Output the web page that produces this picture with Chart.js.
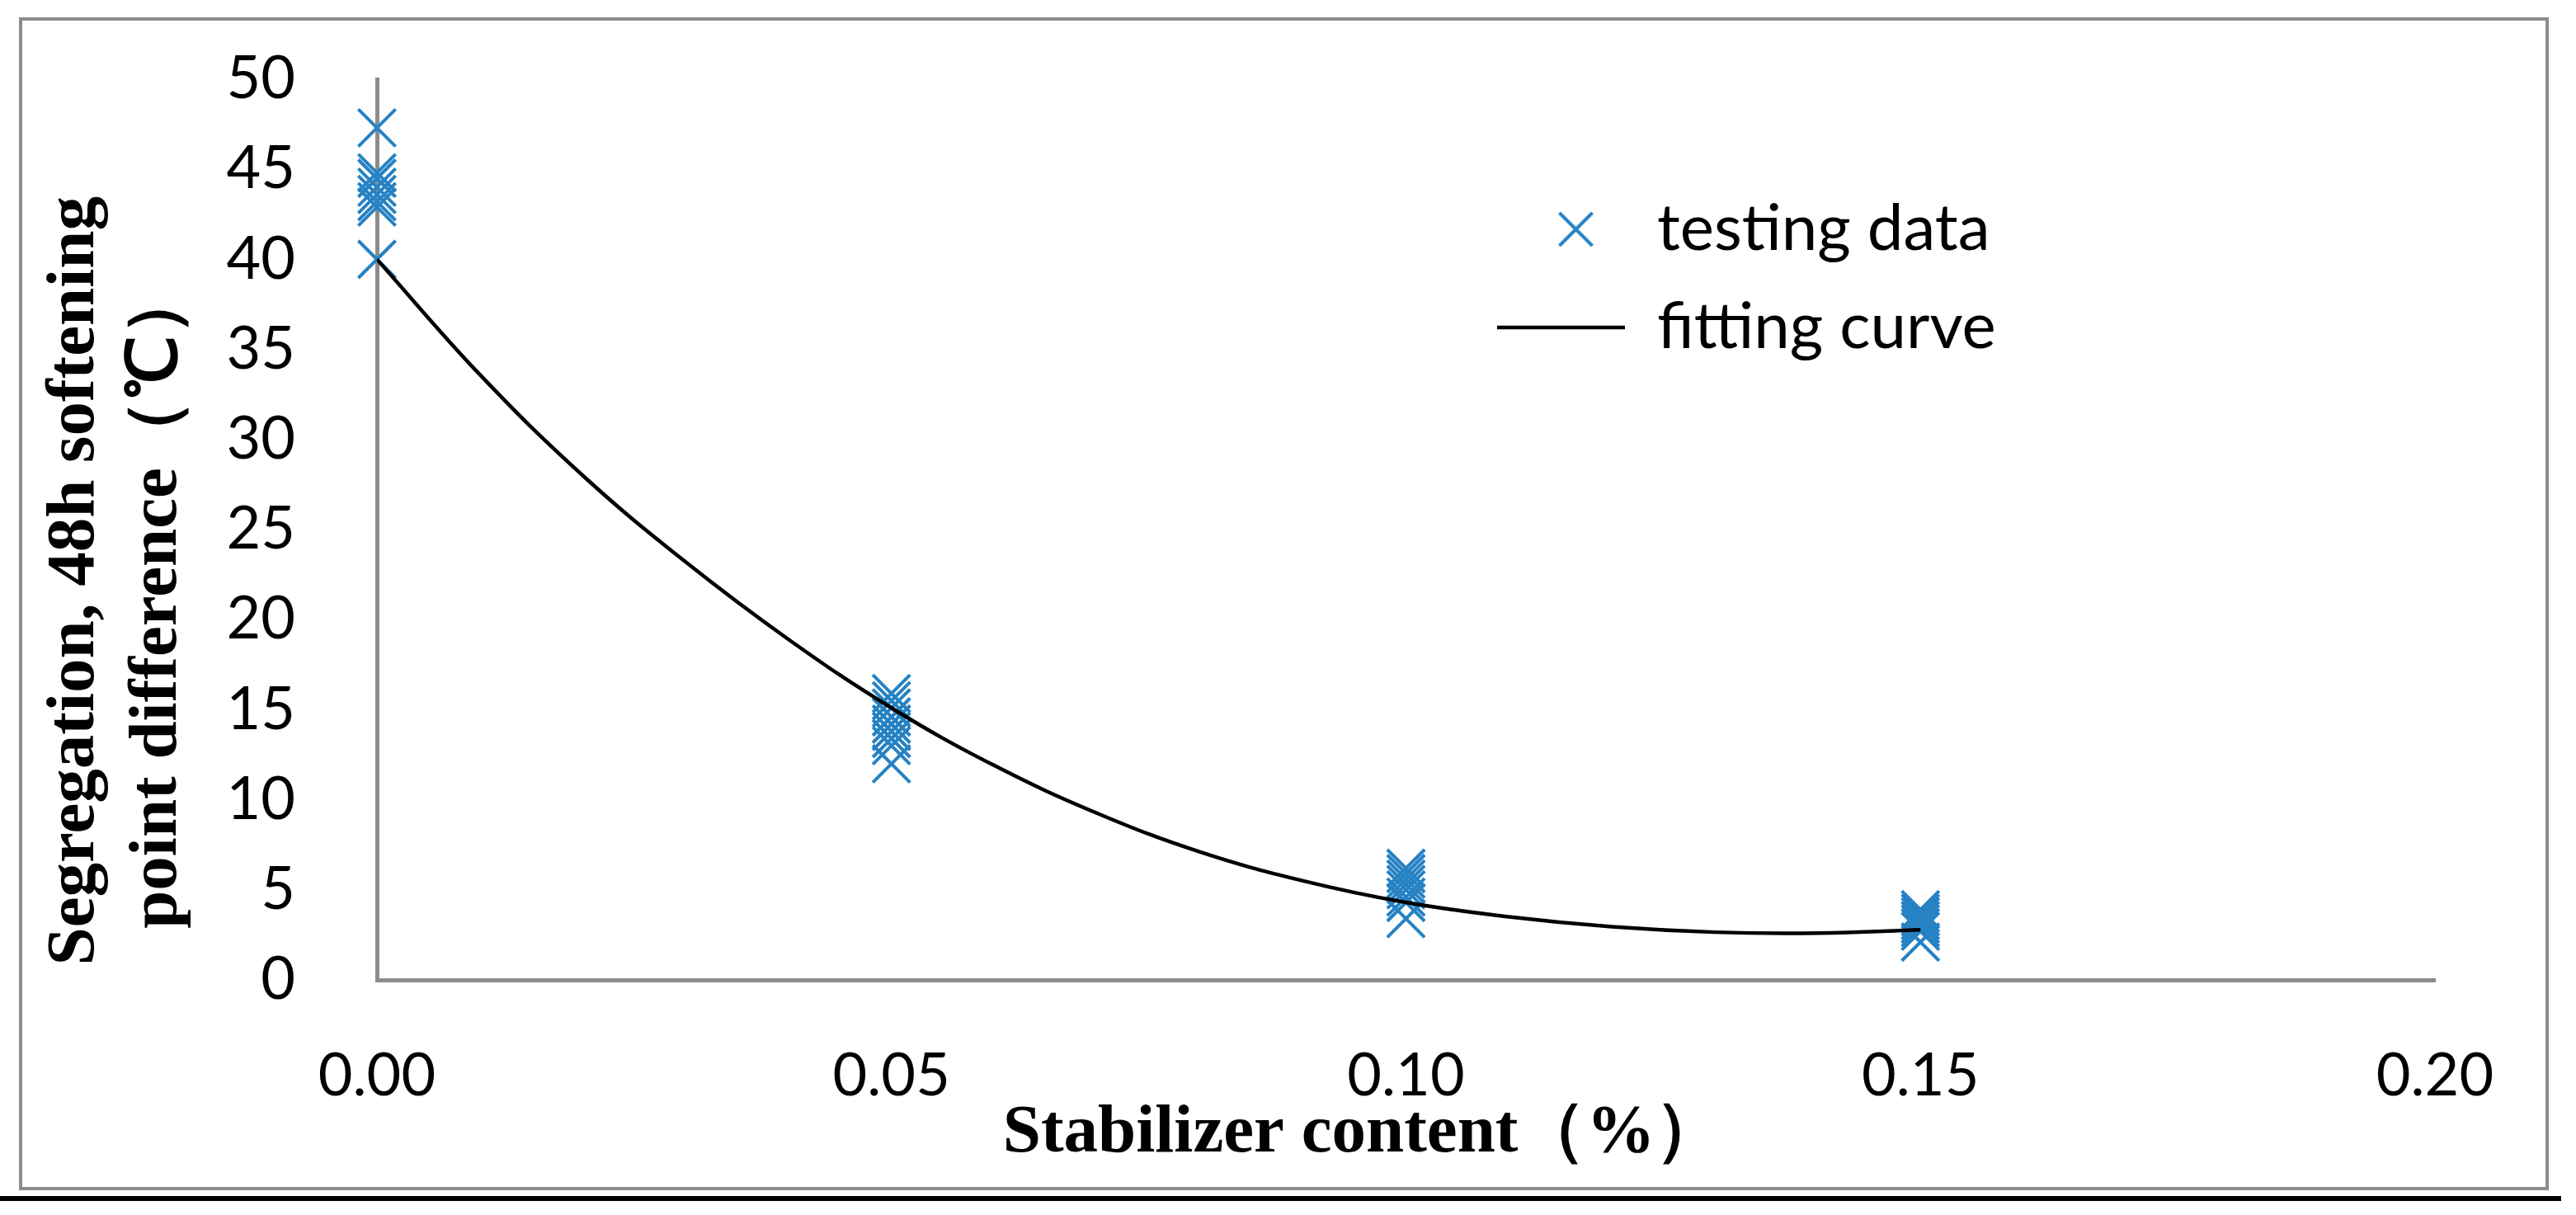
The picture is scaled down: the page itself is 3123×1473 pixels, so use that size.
<!DOCTYPE html>
<html>
<head>
<meta charset="utf-8">
<script src="https://cdn.jsdelivr.net/npm/chart.js@4.4.1/dist/chart.umd.min.js"></script>
<style>
    body { margin: 0; background: #fff; }
    #wrap { position: relative; width: 3123px; height: 1473px; }
    #frame { position: absolute; left: 23px; top: 21px; width: 3059px; height: 1414px; border: 4px solid #8c8c8c; }
    #rule { position: absolute; left: 0; top: 1450px; width: 3105px; height: 6px; background: #000; }
    #chart { position: absolute; left: 0; top: 0; }
</style>
</head>
<body>
<div id="wrap">
    <div id="frame"></div>
    <div id="rule"></div>
    <canvas id="chart" width="3123" height="1473"></canvas>
</div>
<script>
// stabilizer content levels (%) and the measured points at each level
var doseLevels = [0, 0.05, 0.10, 0.15];
var seg000 = [47.3, 44.8, 44.5, 44.0, 43.6, 43.2, 42.9, 40.0];
var seg005 = [15.9, 15.5, 15.1, 14.6, 14.2, 13.8, 13.4, 13.0, 12.0];
var seg010 = [6.2, 5.9, 5.6, 5.3, 5.0, 4.6, 4.3, 3.4];
var seg015 = [3.9, 3.7, 3.5, 3.3, 3.1, 2.9, 2.7, 2.1];

// fitting curve
var curveX = [0, 0.01, 0.02, 0.03, 0.04, 0.05, 0.06, 0.07, 0.08, 0.09, 0.10, 0.11, 0.12, 0.13, 0.14, 0.15];
var curveY = [40.0, 33.6, 28.0, 23.2, 18.9, 15.1, 11.9, 9.25, 7.1, 5.5, 4.3, 3.5, 2.95, 2.65, 2.6, 2.78];

var xTickValues = [0, 0.05, 0.10, 0.15, 0.20];
var xTickLabels = ['0.00', '0.05', '0.10', '0.15', '0.20'];
var yTickValues = [0, 5, 10, 15, 20, 25, 30, 35, 40, 45, 50];

var seriesNames = ['testing data', 'fitting curve'];
var blue = '#2682C3';

var testingPoints = [];
[seg000, seg005, seg010, seg015].forEach((vals, i) => {
    vals.forEach(v => testingPoints.push({ x: doseLevels[i], y: v }));
});
var curvePoints = curveX.map((x, i) => ({ x: x, y: curveY[i] }));

// small X for the legend, drawn right of centre so it sits over the middle of the line
var crossIcon = document.createElement('canvas');
crossIcon.width = 80;
crossIcon.height = 44;
(function () {
    var c = crossIcon.getContext('2d');
    c.strokeStyle = blue;
    c.lineWidth = 4;
    c.beginPath();
    c.moveTo(38, 2); c.lineTo(78, 42);
    c.moveTo(78, 2); c.lineTo(38, 42);
    c.stroke();
})();

var legendPlacer = {
    id: 'legendPlacer',
    afterLayout(chart) {
        var lg = chart.legend;
        if (!lg) return;
        lg.left = 1774;
        lg.top = 198;
        lg.right = lg.left + lg.width;
        lg.bottom = lg.top + 400;
    }
};

var tickFont = { family: "Lato, 'Open Sans', sans-serif", size: 72 };
var titleFont = { family: "'Times New Roman', 'Liberation Serif', serif", size: 83, weight: 'bold', lineHeight: 1.2 };

new Chart(document.getElementById('chart').getContext('2d'), {
    type: 'scatter',
    data: {
        datasets: [{
            label: seriesNames[0],
            data: testingPoints,
            pointStyle: 'crossRot',
            pointRadius: 32,
            pointHoverRadius: 32,
            pointBorderWidth: 4,
            borderColor: blue,
            backgroundColor: blue,
            clip: false,
            order: 2
        }, {
            label: seriesNames[1],
            data: curvePoints,
            showLine: true,
            tension: 0.4,
            borderColor: '#000',
            backgroundColor: '#000',
            borderWidth: 4.5,
            pointRadius: 0,
            pointHoverRadius: 0,
            order: 1
        }]
    },
    options: {
        responsive: false,
        animation: false,
        layout: {
            padding: { left: 0, right: 171, top: 96, bottom: 0 }
        },
        plugins: {
            legend: {
                position: 'chartArea',
                align: 'start',
                labels: {
                    usePointStyle: true,
                    pointStyleWidth: 155,
                    padding: 41,
                    color: '#000',
                    font: { family: "Lato, 'Open Sans', sans-serif", size: 78 },
                    generateLabels: function (chart) {
                        var items = Chart.defaults.plugins.legend.labels.generateLabels(chart);
                        items.sort((a, b) => a.datasetIndex - b.datasetIndex);
                        items.forEach(it => {
                            if (it.datasetIndex === 0) {
                                it.pointStyle = crossIcon;
                            } else {
                                it.pointStyle = 'line';
                                it.rotation = 0;
                            }
                        });
                        return items;
                    }
                }
            },
            tooltip: { enabled: false }
        },
        scales: {
            x: {
                type: 'linear',
                min: 0,
                max: 0.2,
                afterBuildTicks: s => { s.ticks = xTickValues.map(v => ({ value: v })); },
                afterFit: s => { s.height = 285; },
                grid: { display: false },
                border: { display: true, color: '#8c8c8c', width: 5 },
                ticks: {
                    padding: 66,
                    color: '#000',
                    font: tickFont,
                    maxRotation: 0,
                    callback: (v, i) => xTickLabels[i]
                },
                title: {
                    display: true,
                    text: 'Stabilizer content（%）     ',
                    color: '#000',
                    font: titleFont,
                    padding: { top: 0, bottom: 49 }
                }
            },
            y: {
                min: 0,
                max: 50,
                afterBuildTicks: s => { s.ticks = yTickValues.map(v => ({ value: v })); },
                afterFit: s => { s.width = 457; },
                // invisible tick marks keep the labels away from the axis
                grid: { display: true, color: 'rgba(0,0,0,0)', drawTicks: true, tickLength: 99 },
                border: { display: true, color: '#8c8c8c', width: 5 },
                ticks: {
                    padding: 0,
                    color: '#000',
                    font: tickFont
                },
                title: {
                    display: true,
                    text: ['Segregation, 48h softening      ', 'point difference（℃）        '],
                    color: '#000',
                    font: titleFont,
                    padding: { top: 42, bottom: 0 }
                }
            }
        }
    },
    plugins: [legendPlacer]
});
</script>
</body>
</html>
